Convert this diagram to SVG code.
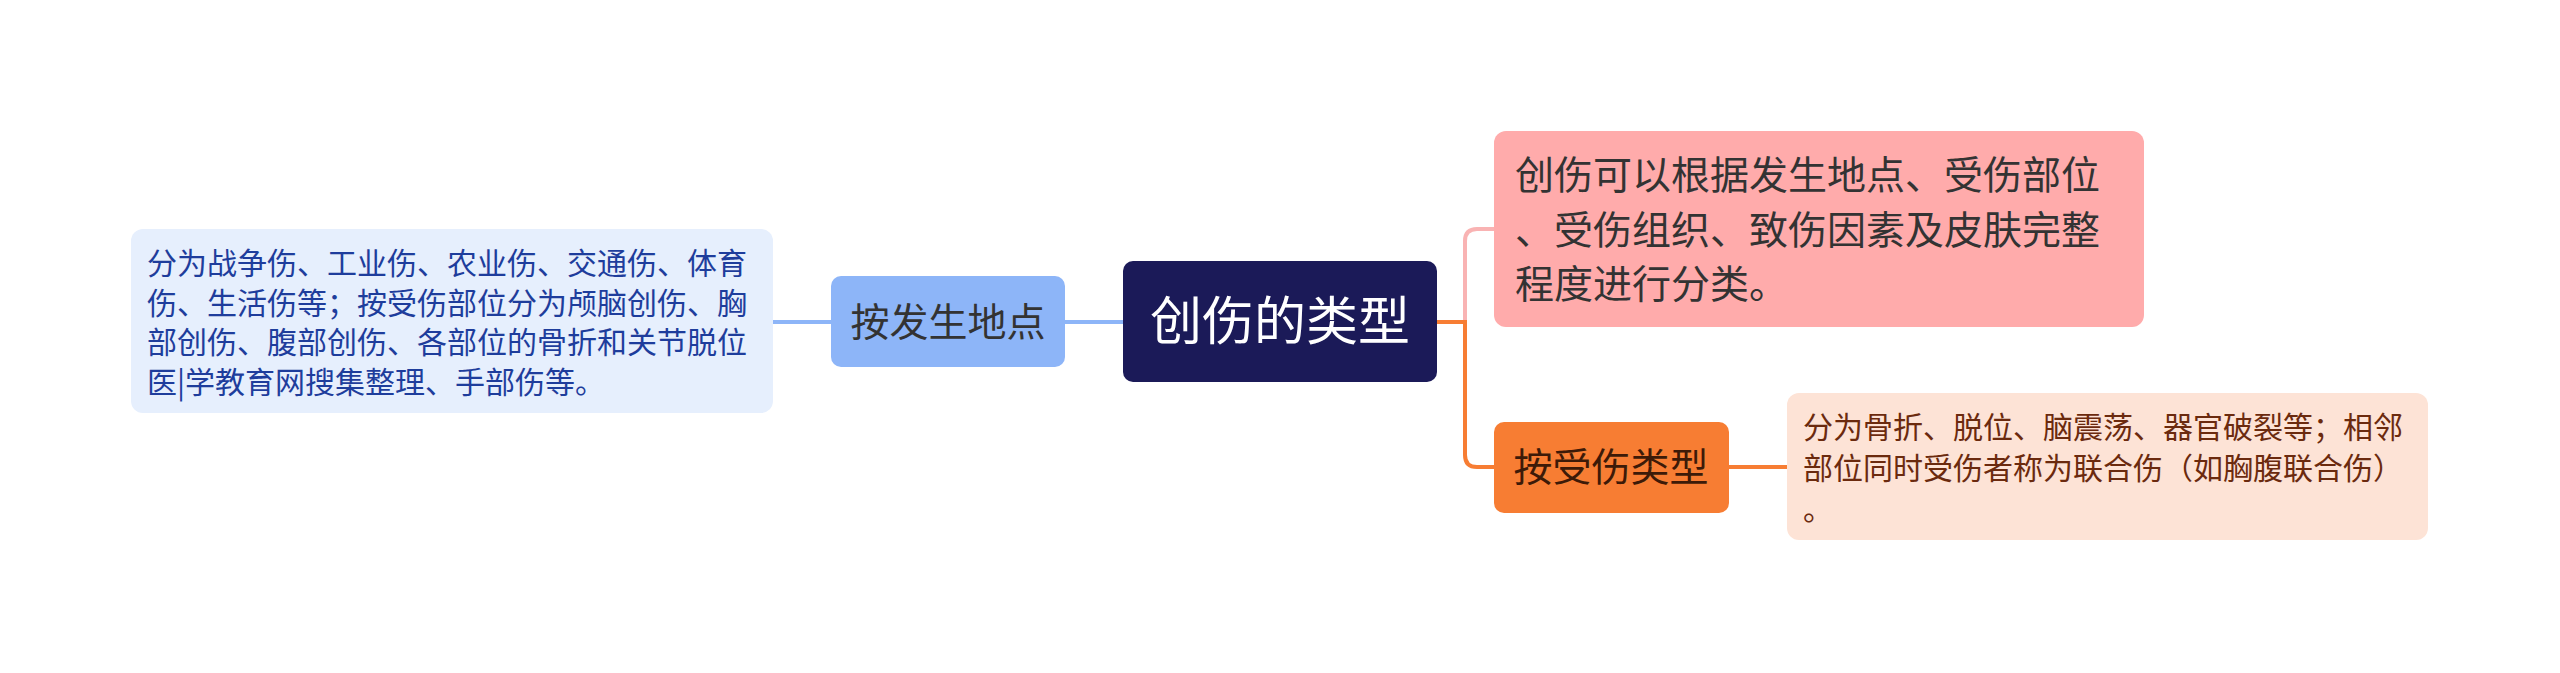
<svg xmlns="http://www.w3.org/2000/svg" width="2560" height="673" viewBox="0 0 2560 673">
<style>
text{font-family:"Noto Sans CJK SC","Noto Sans",sans-serif;}
.ln{fill:none;stroke-width:4;stroke-linecap:butt;}
.t30{font-size:30px;}
.t39{font-size:39px;}
</style>
<rect width="2560" height="673" fill="#ffffff"/>
<g id="connectors">
<path class="ln" stroke="#8db5f8" d="M773,322 H831"/>
<path class="ln" stroke="#8db5f8" d="M1065,322 H1123"/>
<path class="ln" stroke="#f9b3b3" d="M1465,322 V241 Q1465,229 1477,229 H1494"/>
<path class="ln" stroke="#f77d33" d="M1437,322 H1465 V455 Q1465,467 1477,467 H1494"/>
<path class="ln" stroke="#f77d33" d="M1729,467 H1787"/>
</g>
<g id="node-left-detail">
<rect x="131" y="229" width="642" height="184" rx="12" fill="#e6effd"/>
<text class="t30" fill="#1e3d9c" x="147">
<tspan x="147" y="274">分为战争伤、工业伤、农业伤、交通伤、体育</tspan>
<tspan x="147" y="314">伤、生活伤等；按受伤部位分为颅脑创伤、胸</tspan>
<tspan x="147" y="353">部创伤、腹部创伤、各部位的骨折和关节脱位</tspan>
<tspan x="147" y="393">医|学教育网搜集整理、手部伤等。</tspan>
</text>
</g>
<g id="node-location">
<rect x="831" y="276" width="234" height="91" rx="10" fill="#8db5f8"/>
<text class="t39" fill="#333333" x="948" y="336" text-anchor="middle">按发生地点</text>
</g>
<g id="node-root">
<rect x="1123" y="261" width="314" height="121" rx="10" fill="#1b1a58"/>
<text fill="#ffffff" font-size="52" x="1280" y="340" text-anchor="middle">创伤的类型</text>
</g>
<g id="node-pink">
<rect x="1494" y="131" width="650" height="196" rx="12" fill="#ffabab"/>
<text class="t39" fill="#333333">
<tspan x="1515" y="189">创伤可以根据发生地点、受伤部位</tspan>
<tspan x="1515" y="244">、受伤组织、致伤因素及皮肤完整</tspan>
<tspan x="1515" y="298">程度进行分类。</tspan>
</text>
</g>
<g id="node-injury-type">
<rect x="1494" y="422" width="235" height="91" rx="10" fill="#f77d33"/>
<text class="t39" fill="#3d1a08" x="1611" y="481" text-anchor="middle">按受伤类型</text>
</g>
<g id="node-injury-detail">
<rect x="1787" y="393" width="641" height="147" rx="12" fill="#fde3d6"/>
<text class="t30" fill="#6b2a0e">
<tspan x="1803" y="438">分为骨折、脱位、脑震荡、器官破裂等；相邻</tspan>
<tspan x="1803" y="479">部位同时受伤者称为联合伤（如胸腹联合伤）</tspan>
<tspan x="1803" y="520">。</tspan>
</text>
</g>
</svg>
